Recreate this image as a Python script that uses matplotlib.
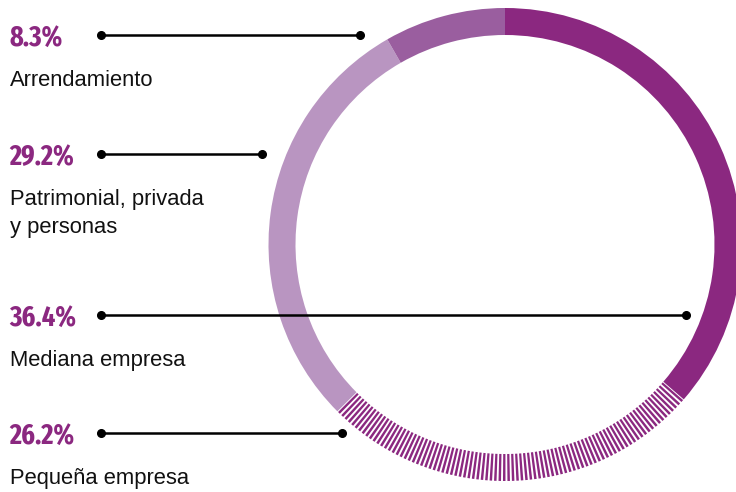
import matplotlib
matplotlib.use("Agg")
import matplotlib.pyplot as plt
from matplotlib.patches import Wedge

# Data (clockwise from 12 o'clock)
categories = ["Mediana empresa", "Pequeña empresa", "Patrimonial, privada\ny personas", "Arrendamiento"]
values = [36.4, 26.2, 29.2, 8.3]
pct_labels = ["36.4%", "26.2%", "29.2%", "8.3%"]
colors = ["#8B2880", None, "#B995C1", "#9A5E9F"]
hatched = [False, True, False, False]
stripe_color = "#8B2880"

# Layout (pixel coordinates, y from top)
W, H = 736, 492
cx, cy = 505, 244.5
r_out, ring_w = 236.5, 27
label_y = {"Arrendamiento": 38, "Patrimonial, privada\ny personas": 157,
           "Mediana empresa": 318, "Pequeña empresa": 436}
line_end_x = {"Arrendamiento": 360, "Patrimonial, privada\ny personas": 262,
              "Mediana empresa": 686, "Pequeña empresa": 342}
line_start_x = 101

PCT_FONT = ["Fira Sans Extra Condensed", "Fira Sans Condensed", "Roboto Condensed", "DejaVu Sans"]
BODY_FONT = ["Liberation Sans", "DejaVu Sans"]

fig = plt.figure(figsize=(W / 100, H / 100), dpi=100)
ax = fig.add_axes([0, 0, 1, 1])
ax.set_xlim(0, W)
ax.set_ylim(0, H)
ax.axis("off")

def Y(y):
    return H - y

total = sum(values)
start = 90.0
for cat, v, c, h in zip(categories, values, colors, hatched):
    span = 360.0 * v / total
    t2 = start
    t1 = start - span
    if not h:
        ax.add_patch(Wedge((cx, Y(cy)), r_out, t1, t2, width=ring_w,
                           facecolor=c, edgecolor="none", antialiased=True))
    else:
        step = 1.08
        n = int(round(span / step))
        step = span / n
        for k in range(n):
            a1 = t1 + k * step + step * 0.22
            a2 = a1 + step * 0.56
            ax.add_patch(Wedge((cx, Y(cy)), r_out, a1, a2, width=ring_w,
                               facecolor=stripe_color, edgecolor="none"))
    start = t1

# Labels and leader lines
for cat, p in zip(categories, pct_labels):
    y = label_y[cat]
    ax.text(9, Y(y), p, fontsize=20.5, fontweight="bold", color="#8B2880",
            family=PCT_FONT, va="center", ha="left")
    ax.plot([line_start_x, line_end_x[cat]], [Y(y - 3), Y(y - 3)], color="black", lw=1.8,
            solid_capstyle="butt")
    ax.plot([line_start_x, line_end_x[cat]], [Y(y - 3), Y(y - 3)], "o", color="black",
            markersize=5.5)
    ax.text(10, Y(y + 32), cat, fontsize=15.8, color="#111111",
            family=BODY_FONT, va="top", ha="left", linespacing=1.45)

fig.savefig("out.png", dpi=100)
